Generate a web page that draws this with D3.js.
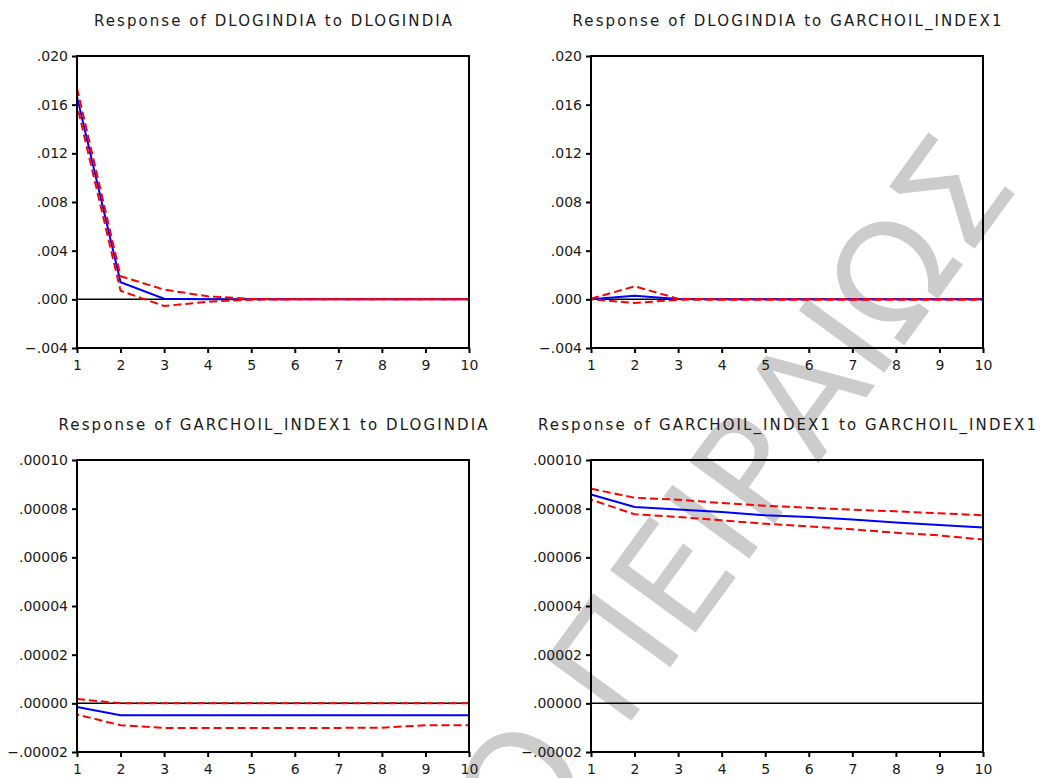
<!DOCTYPE html>
<html>
<head>
<meta charset="utf-8">
<script src="https://cdn.jsdelivr.net/npm/d3@7"></script>
<style>
  body { margin: 0; background: #fff; }
  svg { display: block; font-family: "DejaVu Sans", sans-serif; }
  .frame { fill: none; stroke: #000; stroke-width: 2; }
  .zero { stroke: #000; stroke-width: 1.5; }
  .resp { fill: none; stroke: #0000ff; stroke-width: 2; }
  .band { fill: none; stroke: #ff0000; stroke-width: 2; stroke-dasharray: 8 4; }
  .band.lower { stroke-dashoffset: 6; }
  .axis text { font-size: 14px; fill: #1a1a1a; font-family: "DejaVu Sans", sans-serif; }
  .axis line { stroke: #000; stroke-width: 2; }
  .title { font-size: 15px; fill: #1a1a1a; }
  .watermark { font-size: 145px; fill: #cccccc; font-family: "DejaVu Sans", sans-serif; }
</style>
</head>
<body>
<svg id="chart" width="1045" height="778"></svg>
<script>
// ------------------------------------------
//  Data
// ------------------------------------------
const periods = [1, 2, 3, 4, 5, 6, 7, 8, 9, 10]

const titles = [
  'Response of DLOGINDIA to DLOGINDIA',
  'Response of DLOGINDIA to GARCHOIL_INDEX1',
  'Response of GARCHOIL_INDEX1 to DLOGINDIA',
  'Response of GARCHOIL_INDEX1 to GARCHOIL_INDEX1'
]

const yTicksTop = [-0.004, 0.000, 0.004, 0.008, 0.012, 0.016, 0.020]
const yTicksBottom = [-0.00002, 0.00000, 0.00002, 0.00004, 0.00006, 0.00008, 0.00010]

// DLOGINDIA -> DLOGINDIA
const resp11 = [0.01665, 0.00140, 0.00005, 0.00000, 0.00000, 0, 0, 0, 0, 0]
const upper11 = [0.01735, 0.00190, 0.00080, 0.00025, 0.00003, 0, 0, 0, 0, 0]
const lower11 = [0.01595, 0.00070, -0.00055, -0.00020, -0.00003, 0, 0, 0, 0, 0]

// DLOGINDIA -> GARCHOIL_INDEX1
const resp12 = [0.00000, 0.00030, 0.00002, 0.00000, 0.00000, 0.00000, 0.00000, 0.00000, 0.00000, 0.00000]
const upper12 = [0.00005, 0.00107, 0.00005, 0.00001, 0.00001, 0.00001, 0.00001, 0.00001, 0.00001, 0.00001]
const lower12 = [0.00000, -0.00030, -0.00004, -0.00004, -0.00004, -0.00004, -0.00004, -0.00004, -0.00004, -0.00004]

// GARCHOIL_INDEX1 -> DLOGINDIA
const resp21 = [-0.0000015, -0.0000049, -0.0000049, -0.0000049, -0.0000049, -0.0000049, -0.0000049, -0.0000049, -0.0000049, -0.0000049]
const upper21 = [0.0000018, 0.0000000, 0.0000000, 0.0000000, 0.0000000, 0.0000000, 0.0000000, 0.0000000, 0.0000000, 0.0000000]
const lower21 = [-0.0000046, -0.0000090, -0.0000101, -0.0000101, -0.0000101, -0.0000101, -0.0000101, -0.0000100, -0.0000090, -0.0000090]

// GARCHOIL_INDEX1 -> GARCHOIL_INDEX1
const resp22 = [0.0000858, 0.0000807, 0.0000797, 0.0000786, 0.0000773, 0.0000766, 0.0000755, 0.0000743, 0.0000733, 0.0000723]
const upper22 = [0.0000882, 0.0000845, 0.0000837, 0.0000823, 0.0000812, 0.0000804, 0.0000796, 0.0000789, 0.0000781, 0.0000773]
const lower22 = [0.0000837, 0.0000777, 0.0000766, 0.0000752, 0.0000738, 0.0000727, 0.0000715, 0.0000701, 0.0000690, 0.0000673]

const watermarkText = 'ΠΑΝΕΠΙΣΤΗΜΙΟ ΠΕΙΡΑΙΩΣ'

// ------------------------------------------
//  Layout
// ------------------------------------------
const svg = d3.select('#chart')
const plotW = 392, plotH = 292
const lefts = [77, 591], tops = [56, 460]
const titleWidths = [358, 429, 429, 498]

const fmtTop = d => d3.format('.3f')(d).replace('0.', '.')
const fmtBottom = d => d3.format('.5f')(d).replace('0.', '.')

const panels = [
  { resp: resp11, upper: upper11, lower: lower11, ticks: yTicksTop, fmt: fmtTop },
  { resp: resp12, upper: upper12, lower: lower12, ticks: yTicksTop, fmt: fmtTop },
  { resp: resp21, upper: upper21, lower: lower21, ticks: yTicksBottom, fmt: fmtBottom },
  { resp: resp22, upper: upper22, lower: lower22, ticks: yTicksBottom, fmt: fmtBottom }
]

// watermark sits underneath the plots
svg.append('text')
  .attr('class', 'watermark')
  .attr('text-anchor', 'end')
  .attr('transform', 'translate(1020,186) rotate(-54)')
  .text(watermarkText)

function drawPanel(p, i) {
  const left = lefts[i % 2], top = tops[Math.floor(i / 2)]
  const g = svg.append('g').attr('transform', `translate(${left},${top})`)

  const x = d3.scaleLinear().domain([1, 10]).range([0, plotW])
  const y = d3.scaleLinear().domain(d3.extent(p.ticks)).range([plotH, 0])

  g.append('text')
    .attr('class', 'title')
    .attr('x', plotW / 2)
    .attr('y', -30)
    .attr('text-anchor', 'middle')
    .attr('textLength', titleWidths[i])
    .attr('lengthAdjust', 'spacing')
    .text(titles[i])

  g.append('line')
    .attr('class', 'zero')
    .attr('x1', 0).attr('x2', plotW)
    .attr('y1', y(0)).attr('y2', y(0))

  const line = d3.line().x((d, j) => x(periods[j])).y(d => y(d))

  g.append('path').attr('class', 'resp').attr('d', line(p.resp))
  g.append('path').attr('class', 'band upper').attr('d', line(p.upper))
  g.append('path').attr('class', 'band lower').attr('d', line(p.lower))

  const ya = g.append('g').attr('class', 'axis')
    .call(d3.axisLeft(y).tickValues(p.ticks).tickFormat(p.fmt).tickSize(5).tickPadding(4))
  ya.select('.domain').remove()

  const xa = g.append('g').attr('class', 'axis')
    .attr('transform', `translate(0,${plotH})`)
    .call(d3.axisBottom(x).tickValues(periods).tickFormat(d3.format('d')).tickSize(5).tickPadding(7))
  xa.select('.domain').remove()

  g.append('rect')
    .attr('class', 'frame')
    .attr('width', plotW)
    .attr('height', plotH)
}

panels.forEach(drawPanel)
</script>
</body>
</html>
